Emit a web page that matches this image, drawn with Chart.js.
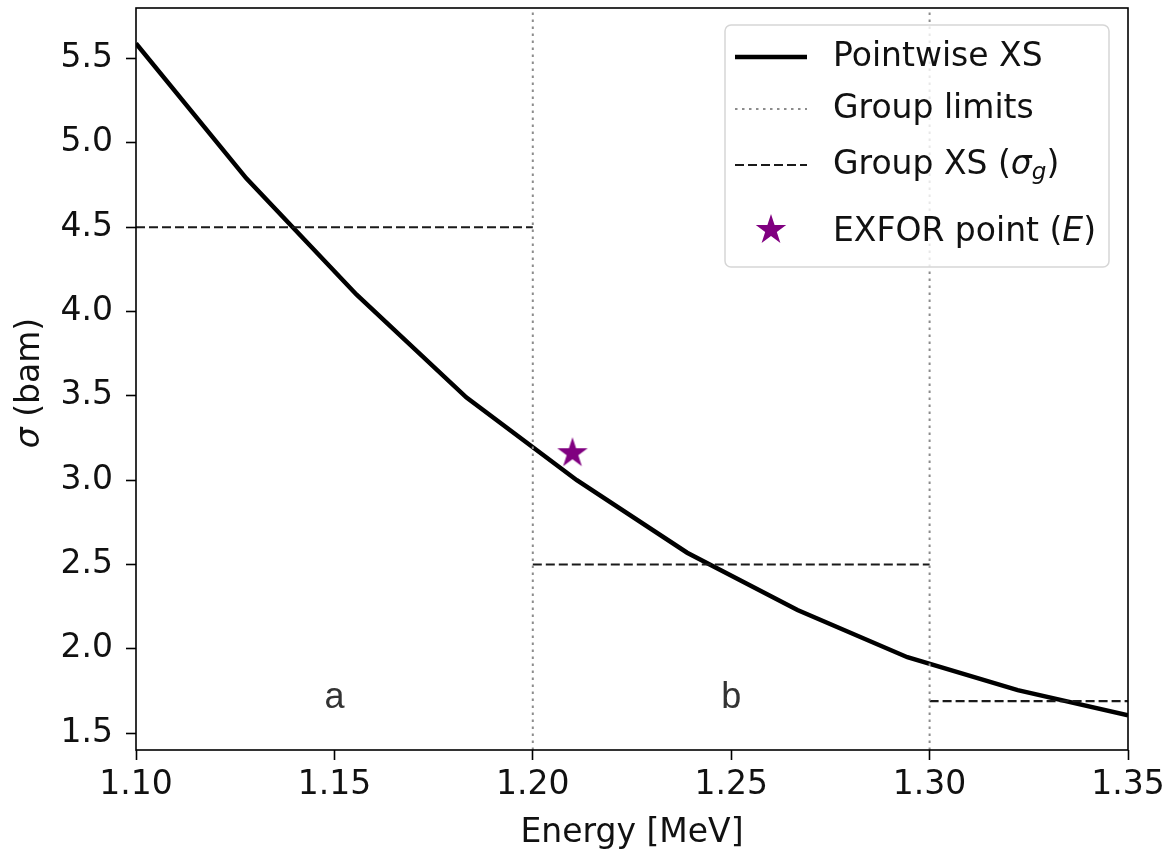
<!DOCTYPE html>
<html>
<head>
<meta charset="utf-8">
<script src="https://cdn.jsdelivr.net/npm/chart.js@4/dist/chart.umd.min.js"></script>
<style>
  body { margin: 0; background: #fff; }
  #xs-chart { display: block; }
</style>
</head>
<body>
<canvas id="xs-chart" width="1165" height="852"></canvas>
<script>
'use strict';

// *************** DATA
let energy = [1.1, 1.1278, 1.1556, 1.1833, 1.2111, 1.2389, 1.2667, 1.2944, 1.3222, 1.35];
let sigma = [5.59, 4.79, 4.10, 3.49, 3.00, 2.57, 2.23, 1.95, 1.755, 1.605];

let groupEdges = [1.10, 1.20, 1.30, 1.35];
let groupXS = [4.5, 2.5, 1.69];
let groupLimits = [1.20, 1.30];

let exforE = [1.21];
let exforSigma = [3.16];

let groupNames = ['a', 'b'];
let groupNameE = [1.15, 1.25];
let groupNameSigma = [1.65, 1.65];

let xTicks = [1.10, 1.15, 1.20, 1.25, 1.30, 1.35];
let yTicks = [1.5, 2.0, 2.5, 3.0, 3.5, 4.0, 4.5, 5.0, 5.5];
let xRange = [1.10, 1.35];
let yRange = [1.4, 5.8];

// *************** STYLE
const FONT = 'DejaVu Sans';
const FS = 33;
const DASH = [9, 4];
const DOT = [2.5, 4.5];
const PURPLE = '#800080';

// star marker as an image (chart.js 'star' is an asterisk)
function makeStar(size, color) {
  let c = document.createElement('canvas');
  c.width = size;
  c.height = size;
  let g = c.getContext('2d');
  let r = size / 2 - 1;
  let ri = r * 0.382;
  g.beginPath();
  for (let i = 0; i < 10; i++) {
    let rad = i % 2 === 0 ? r : ri;
    let a = -Math.PI / 2 + i * Math.PI / 5;
    let px = size / 2 + rad * Math.cos(a);
    let py = size / 2 + rad * Math.sin(a);
    if (i === 0) g.moveTo(px, py); else g.lineTo(px, py);
  }
  g.closePath();
  g.fillStyle = color;
  g.fill();
  return c;
}
let starImg = makeStar(34, PURPLE);

// *************** DATASETS
let curvePts = [];
for (let i = 0; i < energy.length; i++) {
  curvePts.push({ x: energy[i], y: sigma[i] });
}

let datasets = [];

for (let i = 0; i < groupLimits.length; i++) {
  datasets.push({
    type: 'line',
    data: [{ x: groupLimits[i], y: yRange[0] }, { x: groupLimits[i], y: yRange[1] }],
    borderColor: '#8c8c8c',
    borderWidth: 2,
    borderDash: DOT,
    pointRadius: 0
  });
}

for (let i = 0; i < groupXS.length; i++) {
  datasets.push({
    type: 'line',
    data: [{ x: groupEdges[i], y: groupXS[i] }, { x: groupEdges[i + 1], y: groupXS[i] }],
    borderColor: '#1a1a1a',
    borderWidth: 2.2,
    borderDash: DASH,
    pointRadius: 0
  });
}

datasets.push({
  type: 'line',
  data: curvePts,
  borderColor: '#000',
  borderWidth: 4.5,
  tension: 0,
  pointRadius: 0
});

datasets.push({
  type: 'scatter',
  data: [{ x: exforE[0], y: exforSigma[0] }],
  pointStyle: starImg,
  pointRadius: 17
});

// *************** HELPERS
function drawRuns(ctx, x, y, runs) {
  for (let i = 0; i < runs.length; i++) {
    ctx.font = runs[i].font;
    ctx.fillText(runs[i].text, x, y + (runs[i].dy || 0));
    x += ctx.measureText(runs[i].text).width;
  }
  return x;
}

// frame, titles, legend, group names
let decorPlugin = {
  id: 'decor',
  afterDatasetsDraw(chart) {
    let ctx = chart.ctx;
    let a = chart.chartArea;
    let xs = chart.scales.x;
    let ys = chart.scales.y;
    let nf = FS + 'px "' + FONT + '"';
    let itf = 'italic ' + FS + 'px "' + FONT + '"';

    ctx.save();

    // group names
    ctx.fillStyle = '#333';
    ctx.font = '36px "Liberation Sans"';
    ctx.textAlign = 'center';
    ctx.textBaseline = 'alphabetic';
    for (let i = 0; i < groupNames.length; i++) {
      ctx.fillText(groupNames[i], xs.getPixelForValue(groupNameE[i]), ys.getPixelForValue(groupNameSigma[i]));
    }

    // frame
    ctx.strokeStyle = '#000';
    ctx.lineWidth = 1.6;
    ctx.strokeRect(a.left, a.top, a.right - a.left, a.bottom - a.top);

    // axis titles
    ctx.fillStyle = '#111';
    ctx.textAlign = 'center';
    ctx.font = nf;
    ctx.fillText('Energy [MeV]', (a.left + a.right) / 2, 842);

    ctx.save();
    ctx.translate(39, (a.top + a.bottom) / 2 + 4);
    ctx.rotate(-Math.PI / 2);
    ctx.textAlign = 'left';
    let runsY = [
      { text: 'σ', font: itf },
      { text: ' (bam)', font: nf }
    ];
    let w = 0;
    for (let r of runsY) { ctx.font = r.font; w += ctx.measureText(r.text).width; }
    drawRuns(ctx, -w / 2, 0, runsY);
    ctx.restore();

    // legend
    let lx = a.right - 403, ly = a.top + 17, lw = 384, lh = 242;
    ctx.beginPath();
    ctx.roundRect(lx, ly, lw, lh, 6);
    ctx.fillStyle = 'rgba(255,255,255,0.8)';
    ctx.fill();
    ctx.strokeStyle = '#d6d6d6';
    ctx.lineWidth = 1.5;
    ctx.stroke();

    let rows = [ly + 32, ly + 84, ly + 140, ly + 205];
    let sx0 = lx + 10, sx1 = lx + 82, tx = lx + 108;

    ctx.lineWidth = 4.5;
    ctx.strokeStyle = '#000';
    ctx.setLineDash([]);
    ctx.beginPath(); ctx.moveTo(sx0, rows[0]); ctx.lineTo(sx1, rows[0]); ctx.stroke();

    ctx.lineWidth = 2;
    ctx.strokeStyle = '#8c8c8c';
    ctx.setLineDash(DOT);
    ctx.beginPath(); ctx.moveTo(sx0, rows[1]); ctx.lineTo(sx1, rows[1]); ctx.stroke();

    ctx.lineWidth = 2.2;
    ctx.strokeStyle = '#1a1a1a';
    ctx.setLineDash(DASH);
    ctx.beginPath(); ctx.moveTo(sx0, rows[2]); ctx.lineTo(sx1, rows[2]); ctx.stroke();
    ctx.setLineDash([]);

    ctx.drawImage(starImg, (sx0 + sx1) / 2 - 17, rows[3] - 17);

    ctx.fillStyle = '#111';
    ctx.textAlign = 'left';
    ctx.textBaseline = 'middle';
    drawRuns(ctx, tx, rows[0], [{ text: 'Pointwise XS', font: nf }]);
    drawRuns(ctx, tx, rows[1], [{ text: 'Group limits', font: nf }]);
    drawRuns(ctx, tx, rows[2], [
      { text: 'Group XS (', font: nf },
      { text: 'σ', font: itf },
      { text: 'g', font: 'italic 23px "' + FONT + '"', dy: 8 },
      { text: ')', font: nf }
    ]);
    drawRuns(ctx, tx, rows[3] + 2, [
      { text: 'EXFOR point (', font: nf },
      { text: 'E', font: itf },
      { text: ')', font: nf }
    ]);

    ctx.restore();
  }
};

// keep only the listed tick values
function keepTicks(list) {
  return function (scale) {
    scale.ticks = list.map(v => ({ value: v }));
  };
}

// *************** CHART
let ctx = document.getElementById('xs-chart');

new Chart(ctx, {
  data: { datasets: datasets },
  options: {
    responsive: false,
    animation: false,
    events: [],
    layout: { autoPadding: false, padding: { top: 8, right: 37, left: 0, bottom: 0 } },
    plugins: { legend: { display: false }, tooltip: { enabled: false } },
    scales: {
      x: {
        type: 'linear',
        min: xRange[0],
        max: xRange[1],
        afterBuildTicks: keepTicks(xTicks),
        afterFit(scale) {
          scale.height = 102;
          scale.paddingLeft = 0;
          scale.paddingRight = 0;
        },
        border: { display: false },
        grid: { drawOnChartArea: false, drawTicks: true, tickLength: 10, tickWidth: 1.6, tickColor: '#000' },
        ticks: {
          padding: 6,
          maxRotation: 0,
          autoSkip: false,
          color: '#111',
          font: { family: FONT, size: FS },
          callback: v => v.toFixed(2)
        }
      },
      y: {
        type: 'linear',
        min: yRange[0],
        max: yRange[1],
        afterBuildTicks: keepTicks(yTicks),
        afterFit(scale) {
          scale.width = 136;
          scale.paddingTop = 0;
          scale.paddingBottom = 0;
        },
        border: { display: false },
        grid: { drawOnChartArea: false, drawTicks: true, tickLength: 10, tickWidth: 1.6, tickColor: '#000' },
        ticks: {
          padding: 13,
          autoSkip: false,
          color: '#111',
          font: { family: FONT, size: FS },
          callback: v => v.toFixed(1)
        }
      }
    }
  },
  plugins: [decorPlugin]
});
</script>
</body>
</html>
